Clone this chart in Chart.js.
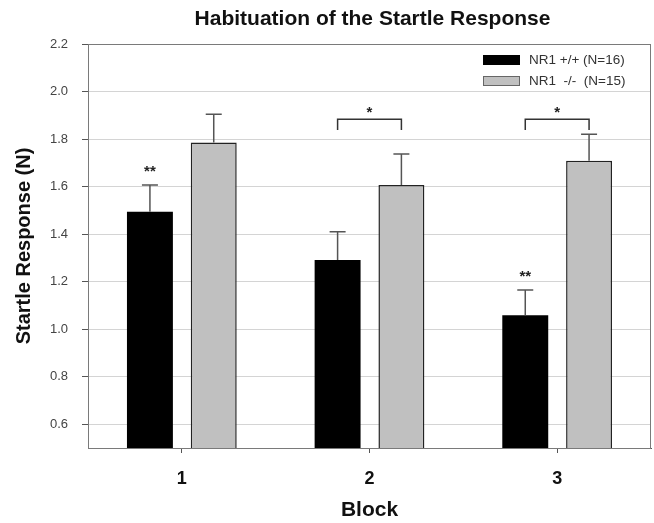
<!DOCTYPE html>
<html>
<head>
<meta charset="utf-8">
<script src="https://cdn.jsdelivr.net/npm/chart.js@4.4.0/dist/chart.umd.min.js"></script>
<style>
  html, body { margin: 0; padding: 0; background: #fff; }
</style>
</head>
<body>
<canvas id="startleChart" width="654" height="523"></canvas>
<script>
// Data
const blocks = ['1', '2', '3'];
const wildType = [1.494, 1.291, 1.059];        // NR1 +/+
const wildTypeErr = [0.113, 0.119, 0.106];
const knockout = [1.786, 1.607, 1.709];        // NR1 -/-
const knockoutErr = [0.118, 0.13, 0.111];
const yTicks = [0.6, 0.8, 1.0, 1.2, 1.4, 1.6, 1.8, 2.0, 2.2];
// '**' over one bar: block index, dataset index, label height
const starBlocks = [0, 2];
const starDataset = [0, 0];
const starHeights = [1.675, 1.232];
// '*' brackets between the two bars of a block
const bracketBlocks = [1, 2];
const bracketTop = [1.883, 1.883];
const bracketLeg = [1.838, 1.838];

const FONT = "'Liberation Sans', Arial, sans-serif";

const annotate = {
    id: 'annotate',
    afterDatasetsDraw(chart) {
        const { ctx, chartArea, scales: { x, y } } = chart;
        ctx.save();

        // frame round the plot
        ctx.strokeStyle = '#7a7a7a';
        ctx.lineWidth = 1;
        ctx.strokeRect(chartArea.left + 0.5, chartArea.top + 0.5,
            chartArea.right - chartArea.left - 1, chartArea.bottom - chartArea.top);

        // error bars (upper only)
        const errs = [wildTypeErr, knockoutErr];
        chart.data.datasets.forEach((ds, di) => {
            chart.getDatasetMeta(di).data.forEach((bar, i) => {
                const top = y.getPixelForValue(ds.data[i]);
                const end = y.getPixelForValue(ds.data[i] + errs[di][i]);
                ctx.strokeStyle = '#555';
                ctx.lineWidth = 1.5;
                ctx.beginPath();
                ctx.moveTo(bar.x, top);
                ctx.lineTo(bar.x, end);
                ctx.moveTo(bar.x - 8, end);
                ctx.lineTo(bar.x + 8, end);
                ctx.stroke();
            });
        });

        ctx.fillStyle = '#222';
        ctx.textAlign = 'center';
        ctx.textBaseline = 'middle';
        ctx.font = 'bold 15px ' + FONT;

        // '**' marks
        starBlocks.forEach((b, k) => {
            const bar = chart.getDatasetMeta(starDataset[k]).data[b];
            ctx.fillText('**', bar.x, y.getPixelForValue(starHeights[k]) + 3);
        });

        // brackets with '*'
        bracketBlocks.forEach((b, k) => {
            const x1 = chart.getDatasetMeta(0).data[b].x;
            const x2 = chart.getDatasetMeta(1).data[b].x;
            const yt = y.getPixelForValue(bracketTop[k]);
            const yl = y.getPixelForValue(bracketLeg[k]);
            ctx.strokeStyle = '#333';
            ctx.lineWidth = 1.5;
            ctx.beginPath();
            ctx.moveTo(x1, yl);
            ctx.lineTo(x1, yt);
            ctx.lineTo(x2, yt);
            ctx.lineTo(x2, yl);
            ctx.stroke();
            ctx.fillText('*', (x1 + x2) / 2, yt - 6);
        });

        // legend, top right inside the plot
        ctx.textAlign = 'left';
        ctx.font = '13.5px ' + FONT;
        chart.data.datasets.forEach((ds, di) => {
            const lx = chartArea.right - 168;
            const ly = chartArea.top + 11 + di * 21;
            ctx.fillStyle = ds.backgroundColor;
            ctx.fillRect(lx, ly, 37, 10);
            if (di === 1) {
                ctx.strokeStyle = '#666';
                ctx.lineWidth = 1;
                ctx.strokeRect(lx + 0.5, ly + 0.5, 36, 9);
            }
            ctx.fillStyle = '#333';
            ctx.fillText(ds.label, lx + 46, ly + 5);
        });

        // chart title
        ctx.textAlign = 'center';
        ctx.fillStyle = '#111';
        ctx.font = 'bold 21px ' + FONT;
        ctx.fillText('Habituation of the Startle Response', (chartArea.left + chartArea.right) / 2 + 3, 19);

        ctx.restore();
    }
};

new Chart(document.getElementById('startleChart'), {
    type: 'bar',
    data: {
        labels: blocks,
        datasets: [
            {
                label: 'NR1 +/+ (N=16)',
                data: wildType,
                backgroundColor: '#000000',
                borderWidth: 0,
                base: 0.5
            },
            {
                label: 'NR1  -/-  (N=15)',
                data: knockout,
                backgroundColor: '#c0c0c0',
                borderColor: '#222',
                borderWidth: 1.5,
                base: 0.5
            }
        ]
    },
    options: {
        responsive: false,
        animation: false,
        events: [],
        datasets: {
            bar: { categoryPercentage: 0.68, barPercentage: 0.72 }
        },
        layout: { padding: { top: 44, right: 3, left: 0, bottom: 0 } },
        plugins: {
            legend: { display: false },
            title: { display: false },
            tooltip: { enabled: false }
        },
        scales: {
            x: {
                offset: true,
                grid: {
                    offset: false,
                    drawOnChartArea: false,
                    tickLength: 5,
                    tickColor: '#555'
                },
                border: { color: '#555', width: 1 },
                ticks: {
                    padding: 15,
                    color: '#111',
                    font: { family: FONT, size: 18, weight: 'bold' }
                },
                title: {
                    display: true,
                    text: 'Block',
                    color: '#111',
                    padding: { top: 4, bottom: 0 },
                    font: { family: FONT, size: 21, weight: 'bold' }
                },
                afterFit(scale) { scale.height = 75; }
            },
            y: {
                min: 0.5,
                max: 2.2,
                afterBuildTicks(scale) {
                    scale.ticks = yTicks.map(v => ({ value: v }));
                },
                grid: {
                    color: '#d4d4d4',
                    tickLength: 6,
                    tickColor: '#555'
                },
                border: { color: '#555', width: 1 },
                ticks: {
                    padding: 14,
                    color: '#444',
                    font: { family: FONT, size: 13 },
                    callback: v => Number(v).toFixed(1)
                },
                title: {
                    display: true,
                    text: 'Startle Response (N)',
                    color: '#111',
                    padding: { top: 12, bottom: 0 },
                    font: { family: FONT, size: 20, weight: 'bold' }
                },
                afterFit(scale) { scale.width = 88; }
            }
        }
    },
    plugins: [annotate]
});
</script>
</body>
</html>
